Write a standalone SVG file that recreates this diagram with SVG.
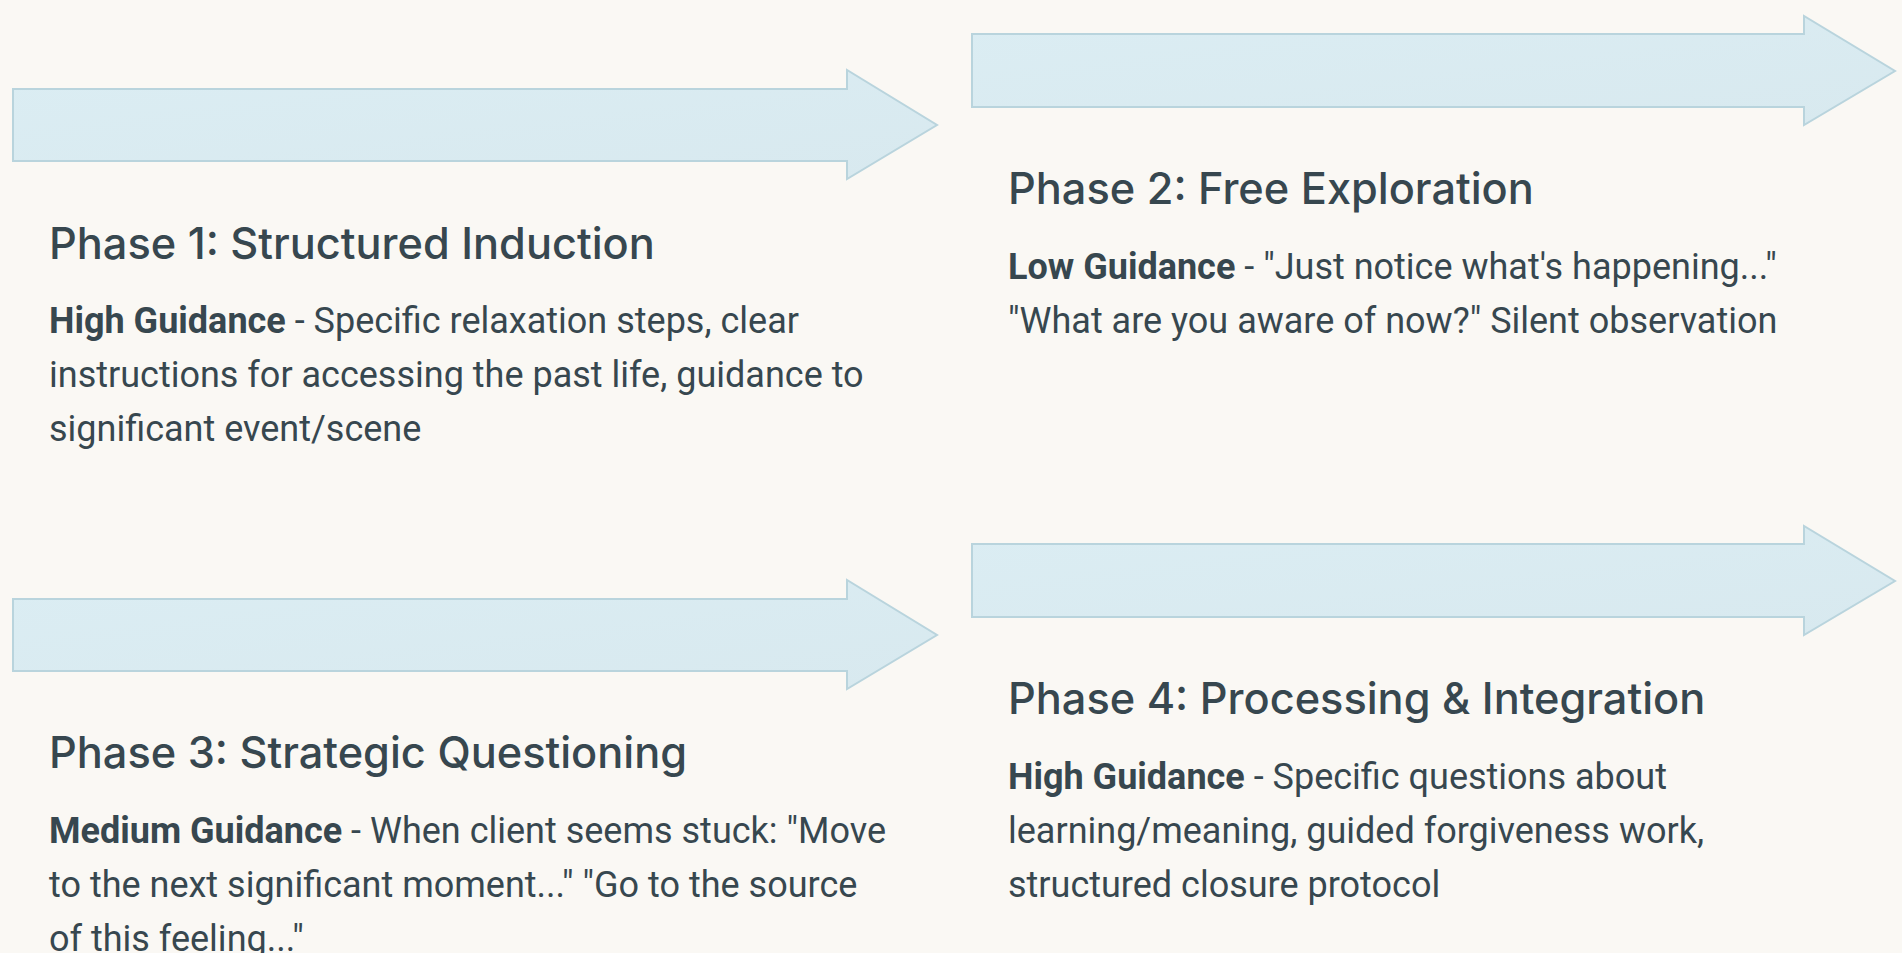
<svg xmlns="http://www.w3.org/2000/svg" width="1902" height="953" viewBox="0 0 1902 953">
<style>
.bg{fill:#faf8f4}
.arrow{fill:url(#ag);stroke:#b9d4dd;stroke-width:2}
.title{font-family:Inter,"Noto Sans",sans-serif;font-size:43.3px;font-weight:500;fill:#37474f}
.body{font-family:Roboto,"Liberation Sans",sans-serif;font-size:36px;fill:#37474f}
.b{font-weight:700}
</style>
<defs>
<linearGradient id="ag" x1="0" y1="0" x2="1" y2="1">
<stop offset="0" stop-color="#dbedf3"/>
<stop offset="1" stop-color="#d8e9ef"/>
</linearGradient>
</defs>
<rect class="bg" x="0" y="0" width="1902" height="953"/>
<g id="phase1">
<path class="arrow" d="M13,89 H847 V70 L937,125 L847,179 V161 H13 Z"/>
<text class="title" x="49" y="259">Phase 1: Structured Induction</text>
<text class="body" x="49" y="333"><tspan class="b">High Guidance</tspan> - Specific relaxation steps, clear</text>
<text class="body" x="49" y="387">instructions for accessing the past life, guidance to</text>
<text class="body" x="49" y="441">significant event/scene</text>
</g>
<g id="phase2">
<path class="arrow" d="M972,34 H1804 V16 L1895,71 L1804,125 V107 H972 Z"/>
<text class="title" x="1008" y="204">Phase 2: Free Exploration</text>
<text class="body" x="1008" y="279"><tspan class="b">Low Guidance</tspan> - "Just notice what's happening..."</text>
<text class="body" x="1008" y="333">"What are you aware of now?" Silent observation</text>
</g>
<g id="phase3">
<path class="arrow" d="M13,599 H847 V580 L937,635 L847,689 V671 H13 Z"/>
<text class="title" x="49" y="768">Phase 3: Strategic Questioning</text>
<text class="body" x="49" y="843"><tspan class="b">Medium Guidance</tspan> - When client seems stuck: "Move</text>
<text class="body" x="49" y="897">to the next significant moment..." "Go to the source</text>
<text class="body" x="49" y="951">of this feeling..."</text>
</g>
<g id="phase4">
<path class="arrow" d="M972,544 H1804 V526 L1895,581 L1804,635 V617 H972 Z"/>
<text class="title" x="1008" y="714">Phase 4: Processing &amp; Integration</text>
<text class="body" x="1008" y="789"><tspan class="b">High Guidance</tspan> - Specific questions about</text>
<text class="body" x="1008" y="843">learning/meaning, guided forgiveness work,</text>
<text class="body" x="1008" y="897">structured closure protocol</text>
</g>
<g id="connectors"/>
</svg>
